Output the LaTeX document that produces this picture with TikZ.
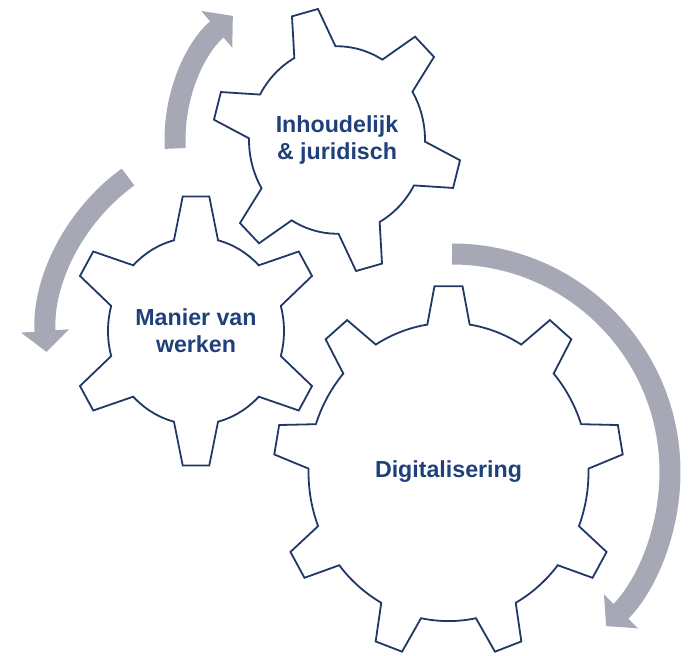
\documentclass[tikz,border=0pt]{standalone}
\usepackage{fontspec}
\setmainfont{Liberation Sans}
\usetikzlibrary{arrows.meta}
\definecolor{gearLine}{RGB}{31,56,100}
\definecolor{gearText}{RGB}{31,64,122}
\definecolor{cycGray}{RGB}{166,168,182}
\tikzset{
  gear/.style    ={draw=gearLine,line width=1.8pt},
  gearlbl/.style ={font=\bfseries\fontsize{23.2}{27}\selectfont,text=gearText,
                   align=center,inner sep=0pt},
  cycarrow/.style={draw=cycGray,line width=21pt,-{Triangle[length=21pt,width=47pt]}},
}
% #1 node, #2 teeth, #3 first tooth angle, #4 root radius, #5 tip radius,
% #6 half base angle, #7 half tip angle
\newcommand{\drawgear}[7]{%
  \pgfmathsetmacro{\gpitch}{360/#2}%
  \pgfmathtruncatemacro{\glast}{#2-1}%
  \draw[gear,shift={(#1.center)},yscale=1.065] ({#3-#6}:#4)
    \foreach \i in {0,...,\glast}{
      -- ({#3+\i*\gpitch-#7}:#5) -- ({#3+\i*\gpitch+#7}:#5) -- ({#3+\i*\gpitch+#6}:#4)
      arc[start angle={#3+\i*\gpitch+#6},delta angle={\gpitch-2*#6},radius=#4]
    } -- cycle;
}

\begin{document}
\begin{tikzpicture}[x=1pt,y=1pt]
\useasboundingbox (0,0) rectangle (697,656);

\node[gearlbl] (inh) at (337,516) {Inhoudelijk\\\& juridisch};
\node[gearlbl] (man) at (196,325) {Manier van\\werken};
\node[gearlbl] (dig) at (448.5,184) {Digitalisering};

\drawgear{inh}{6}{105}{88}{124.5}{14}{6.2}
\drawgear{man}{6}{90}{88}{127}{14.5}{6}
\drawgear{dig}{9}{90}{140}{175}{8.7}{4.6}

% cycle arrows
\coordinate (manc) at ([shift={(49,-7)}]man.center);
\coordinate (digc) at ([shift={(3.5,0)}]dig.center);
\draw[cycarrow] ([shift={(183:162)}]inh.center) arc[start angle=183,end angle=130,radius=162];
\draw[cycarrow] ([shift={(126:199)}]manc) arc[start angle=126,end angle=184,radius=199];
\draw[cycarrow] ([shift={(90:218)}]digc) arc[start angle=90,end angle=-45,radius=218];

\end{tikzpicture}
\end{document}
